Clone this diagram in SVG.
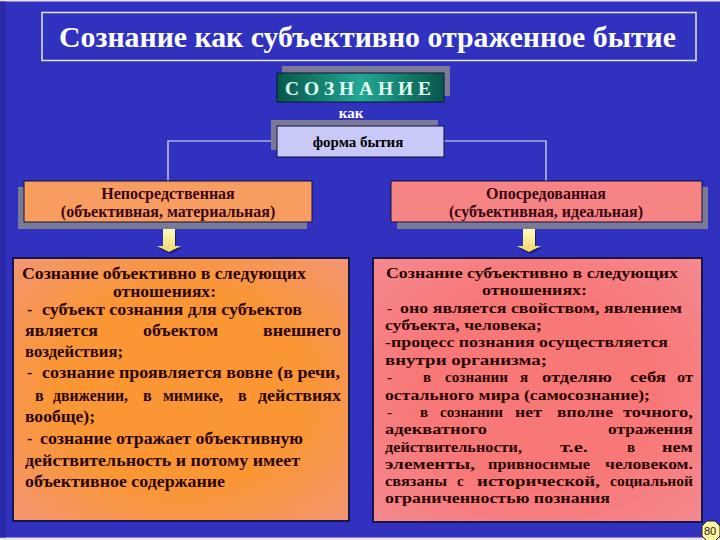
<svg xmlns="http://www.w3.org/2000/svg" width="720" height="540" viewBox="0 0 720 540">
<defs>
<style>
.t{font-family:"Liberation Serif","Times New Roman",serif;font-weight:bold}
.b{font-family:"Liberation Serif","Times New Roman",serif;font-weight:bold;font-size:16px;fill:#2a0505}
.r{font-family:"Liberation Serif","Times New Roman",serif;font-weight:bold;font-size:15px;fill:#2a0505}
.h{font-family:"Liberation Serif","Times New Roman",serif;font-weight:bold;font-size:16px;fill:#3a0615;text-anchor:middle}
.sh{fill:#7a7a96}
.ln{stroke:#e8e8ff;stroke-width:1.2;fill:none}
.bx{stroke:#10103a;stroke-width:1}
</style>
<linearGradient id="teal" x1="0" y1="0" x2="1" y2="0">
<stop offset="0" stop-color="#07574a"/><stop offset="0.5" stop-color="#22a893"/><stop offset="1" stop-color="#07574a"/>
</linearGradient>
<radialGradient id="org" cx="0.5" cy="0.5" r="0.75">
<stop offset="0.5" stop-color="#fa9634"/><stop offset="1" stop-color="#f2957c"/>
</radialGradient>
<radialGradient id="pnk" cx="0.5" cy="0.5" r="0.75">
<stop offset="0.5" stop-color="#f87878"/><stop offset="1" stop-color="#f48c92"/>
</radialGradient>
<linearGradient id="arw" x1="0" y1="0" x2="0" y2="1">
<stop offset="0" stop-color="#fffcc0"/><stop offset="1" stop-color="#f0d868"/>
</linearGradient>
</defs>
<rect x="0" y="0" width="720" height="540" fill="#f0e0ec"/>
<rect x="0" y="1.5" width="720" height="536" fill="#3131bf"/>
<rect x="0" y="1.5" width="6" height="536" fill="#2a2aa8"/>

<g id="title">
<rect x="42" y="12.5" width="654" height="48" fill="none" stroke="#e6e6ff" stroke-width="1.5"/>
<text class="t" x="59" y="47" font-size="30" fill="#ffffff" textLength="617" lengthAdjust="spacingAndGlyphs">Сознание как субъективно отраженное бытие</text>
</g>

<g id="connectors">
<polyline class="ln" points="277,141 168,141 168,181"/>
<polyline class="ln" points="444,141 546,141 546,181"/>
</g>

<g id="soznanie">
<rect class="sh" x="282" y="66" width="168" height="30"/>
<rect class="bx" x="277" y="73" width="167" height="29" fill="url(#teal)"/>
<text class="t" x="285" y="95" font-size="18" fill="#e4fff4" textLength="146" lengthAdjust="spacingAndGlyphs">С О З Н А Н И Е</text>
</g>

<g id="kak">
<text class="t" x="351" y="118" font-size="15" fill="#ffffff" text-anchor="middle">как</text>
</g>

<g id="forma">
<rect class="sh" x="271" y="120" width="167" height="30"/>
<rect class="bx" x="277" y="126" width="167" height="31" fill="#c9c9f7"/>
<text class="t" x="358" y="147" font-size="15" fill="#000000" text-anchor="middle">форма бытия</text>
</g>

<g id="left-head">
<rect class="sh" x="18" y="187" width="289" height="42"/>
<rect class="bx" x="24" y="181" width="288" height="41" fill="#f79d60"/>
<text class="h" x="168" y="199">Непосредственная</text>
<text class="h" x="168" y="217">(объективная, материальная)</text>
</g>

<g id="right-head">
<rect class="sh" x="397" y="187" width="311" height="42"/>
<rect class="bx" x="391" y="181" width="311" height="41" fill="#f78484"/>
<text class="h" x="546" y="199">Опосредованная</text>
<text class="h" x="546" y="217">(субъективная, идеальная)</text>
</g>

<g id="arrow-left">
<path d="M164,231 H176 V248 H182 L170,254 L158,248 H164 Z" fill="#141450" opacity="0.7"/>
<path d="M163,229 H175 V246 H181 L169,252 L157,246 H163 Z" fill="url(#arw)"/>
</g>
<g id="arrow-right">
<path d="M524,231 H536 V248 H542 L530,254 L518,248 H524 Z" fill="#141450" opacity="0.7"/>
<path d="M523,229 H535 V246 H541 L529,252 L517,246 H523 Z" fill="url(#arw)"/>
</g>

<g id="left-body">
<rect x="13" y="258" width="336" height="263" fill="url(#org)" stroke="#16164a" stroke-width="2"/>
<text class="b" x="22" y="279" textLength="284" lengthAdjust="spacingAndGlyphs">Сознание объективно в следующих</text>
<text class="b" x="113" y="297" textLength="103" lengthAdjust="spacingAndGlyphs">отношениях:</text>
<text class="b" x="27" y="315">-</text>
<text class="b" x="42" y="315" textLength="260" lengthAdjust="spacingAndGlyphs">субъект сознания для субъектов</text>
<text class="b" x="25" y="336" textLength="73" lengthAdjust="spacingAndGlyphs">является</text>
<text class="b" x="143" y="336" textLength="75" lengthAdjust="spacingAndGlyphs">объектом</text>
<text class="b" x="263" y="336" textLength="78" lengthAdjust="spacingAndGlyphs">внешнего</text>
<text class="b" x="25" y="357" textLength="98" lengthAdjust="spacingAndGlyphs">воздействия;</text>
<text class="b" x="27" y="378">-</text>
<text class="b" x="42" y="378" textLength="298" lengthAdjust="spacingAndGlyphs">сознание проявляется вовне (в речи,</text>
<text class="b" x="35" y="401">в</text>
<text class="b" x="53" y="401" textLength="75" lengthAdjust="spacingAndGlyphs">движении,</text>
<text class="b" x="143" y="401">в</text>
<text class="b" x="163" y="401" textLength="60" lengthAdjust="spacingAndGlyphs">мимике,</text>
<text class="b" x="238" y="401">в</text>
<text class="b" x="258" y="401" textLength="83" lengthAdjust="spacingAndGlyphs">действиях</text>
<text class="b" x="25" y="422" textLength="70" lengthAdjust="spacingAndGlyphs">вообще);</text>
<text class="b" x="27" y="444">-</text>
<text class="b" x="40" y="444" textLength="263" lengthAdjust="spacingAndGlyphs">сознание отражает объективную</text>
<text class="b" x="25" y="466" textLength="275" lengthAdjust="spacingAndGlyphs">действительность и потому имеет</text>
<text class="b" x="25" y="487" textLength="200" lengthAdjust="spacingAndGlyphs">объективное содержание</text>
</g>

<g id="right-body">
<rect x="373" y="258" width="329" height="264" fill="url(#pnk)" stroke="#16164a" stroke-width="2"/>
<text class="r" x="386" y="278" textLength="292" lengthAdjust="spacingAndGlyphs">Сознание субъективно в следующих</text>
<text class="r" x="482" y="295" textLength="105" lengthAdjust="spacingAndGlyphs">отношениях:</text>
<text class="r" x="387" y="313">-</text>
<text class="r" x="400" y="313" textLength="282" lengthAdjust="spacingAndGlyphs">оно является свойством, явлением</text>
<text class="r" x="385" y="330" textLength="157" lengthAdjust="spacingAndGlyphs">субъекта, человека;</text>
<text class="r" x="385" y="347" textLength="283" lengthAdjust="spacingAndGlyphs">-процесс познания осуществляется</text>
<text class="r" x="385" y="365" textLength="162" lengthAdjust="spacingAndGlyphs">внутри организма;</text>
<text class="r" x="387" y="382">-</text>
<text class="r" x="423" y="382">в</text>
<text class="r" x="445" y="382" textLength="63" lengthAdjust="spacingAndGlyphs">сознании</text>
<text class="r" x="520" y="382">я</text>
<text class="r" x="542" y="382" textLength="70" lengthAdjust="spacingAndGlyphs">отделяю</text>
<text class="r" x="630" y="382" textLength="36" lengthAdjust="spacingAndGlyphs">себя</text>
<text class="r" x="677" y="382" textLength="16" lengthAdjust="spacingAndGlyphs">от</text>
<text class="r" x="385" y="400" textLength="265" lengthAdjust="spacingAndGlyphs">остального мира (самосознание);</text>
<text class="r" x="387" y="417">-</text>
<text class="r" x="420" y="417">в</text>
<text class="r" x="440" y="417" textLength="63" lengthAdjust="spacingAndGlyphs">сознании</text>
<text class="r" x="515" y="417" textLength="27" lengthAdjust="spacingAndGlyphs">нет</text>
<text class="r" x="557" y="417" textLength="56" lengthAdjust="spacingAndGlyphs">вполне</text>
<text class="r" x="623" y="417" textLength="70" lengthAdjust="spacingAndGlyphs">точного,</text>
<text class="r" x="385" y="434" textLength="102" lengthAdjust="spacingAndGlyphs">адекватного</text>
<text class="r" x="608" y="434" textLength="85" lengthAdjust="spacingAndGlyphs">отражения</text>
<text class="r" x="385" y="452" textLength="137" lengthAdjust="spacingAndGlyphs">действительности,</text>
<text class="r" x="560" y="452" textLength="28" lengthAdjust="spacingAndGlyphs">т.е.</text>
<text class="r" x="627" y="452">в</text>
<text class="r" x="662" y="452" textLength="31" lengthAdjust="spacingAndGlyphs">нем</text>
<text class="r" x="385" y="469" textLength="90" lengthAdjust="spacingAndGlyphs">элементы,</text>
<text class="r" x="488" y="469" textLength="102" lengthAdjust="spacingAndGlyphs">привносимые</text>
<text class="r" x="605" y="469" textLength="88" lengthAdjust="spacingAndGlyphs">человеком.</text>
<text class="r" x="385" y="486" textLength="62" lengthAdjust="spacingAndGlyphs">связаны</text>
<text class="r" x="457" y="486">с</text>
<text class="r" x="477" y="486" textLength="123" lengthAdjust="spacingAndGlyphs">исторической,</text>
<text class="r" x="610" y="486" textLength="83" lengthAdjust="spacingAndGlyphs">социальной</text>
<text class="r" x="385" y="503" textLength="225" lengthAdjust="spacingAndGlyphs">ограниченностью познания</text>
</g>

<g id="page-number">
<polygon points="707,521 715,521 720,526 720,536 715,541 707,541 702,536 702,526" fill="#fff6a0" stroke="#202020" stroke-width="1"/>
<text x="710" y="535" font-family="Liberation Sans, Arial, sans-serif" font-size="11" fill="#202020" text-anchor="middle">80</text>
</g>
</svg>
